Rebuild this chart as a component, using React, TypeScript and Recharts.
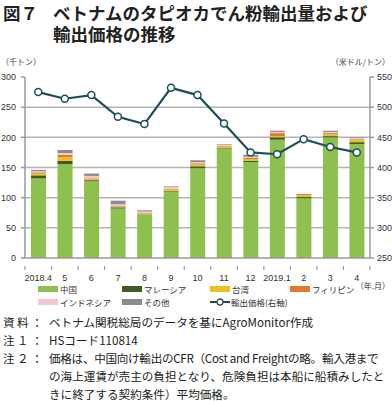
import React from 'react'
import {
  ComposedChart,
  Bar,
  Line,
  XAxis,
  YAxis,
  CartesianGrid,
} from 'recharts'

const months = ['2018.4', '5', '6', '7', '8', '9', '10', '11', '12', '2019.1', '2', '3', '4']
const china = [132, 156, 127, 82, 71, 110, 149, 181, 159, 196, 99, 200, 189]
const malaysia = [5, 5, 2, 2, 1, 1, 3, 1, 2, 4, 2, 2, 3]
const taiwan = [3, 6, 2, 1, 2, 3, 3, 3, 3, 2, 3, 3, 4]
const philippines = [2, 4, 1, 1, 1, 1, 2, 1, 2, 5, 2, 2, 1]
const indonesia = [2, 3, 4, 3, 2, 3, 2, 2, 2, 2, 0, 2, 2]
const others = [2, 5, 4, 6, 2, 1, 3, 1, 3, 2, 0, 2, 1]
const price = [525, 514, 520, 484, 472, 532, 520, 473, 425, 422, 447, 434, 425]

const leftTicks = [0, 50, 100, 150, 200, 250, 300]
const rightTicks = [250, 300, 350, 400, 450, 500, 550]
const gridValues = [50, 100, 150, 200, 250]
const LEFT_MAX = 300

const data = months.map((m, i) => ({
  month: m,
  china: china[i],
  malaysia: malaysia[i],
  taiwan: taiwan[i],
  philippines: philippines[i],
  indonesia: indonesia[i],
  others: others[i],
  price: price[i],
}))

const COLORS = {
  china: '#8dc04e',
  malaysia: '#3f5b22',
  taiwan: '#e9c21e',
  philippines: '#e07a2c',
  indonesia: '#f2c7d3',
  others: '#8a8c8e',
  line: '#1f4d5a',
}

const JP = '"Noto Sans CJK JP", sans-serif'
const NUM = '"Liberation Sans", "Noto Sans CJK JP", sans-serif'
const AXIS = '#9a9a9a'

const PLOT_LEFT = 25
const PLOT_RIGHT = 370
const STEP = (PLOT_RIGHT - PLOT_LEFT) / months.length

function XTick(props: any) {
  const { x, y, payload, index } = props
  return (
    <g>
      {index === 0 && (
        <line x1={x - STEP / 2} x2={x - STEP / 2} y1={y} y2={y + 4} stroke={AXIS} strokeWidth={1.2} />
      )}
      <line x1={x + STEP / 2} x2={x + STEP / 2} y1={y} y2={y + 4} stroke={AXIS} strokeWidth={1.2} />
      <text x={x} y={y + 15} textAnchor="middle" fontSize={9} fill="#333" fontFamily={NUM}>
        {payload.value}
      </text>
    </g>
  )
}

function Swatch({ color }: { color: string }) {
  return <span style={{ display: 'inline-block', width: 20, height: 6, background: color, marginRight: 2 }} />
}

function LegendItem({ x, y, color, label, line }: { x: number; y: number; color: string; label: string; line?: boolean }) {
  return (
    <div style={{ position: 'absolute', left: x, top: y, display: 'flex', alignItems: 'center', fontSize: 8.5, color: '#333', fontFamily: JP, whiteSpace: 'nowrap', lineHeight: '12px' }}>
      {line ? (
        <svg width={20} height={8} style={{ marginRight: 1 }}>
          <line x1={0} x2={20} y1={4} y2={4} stroke={COLORS.line} strokeWidth={2} />
          <circle cx={10} cy={4} r={3} fill="#fff" stroke={COLORS.line} strokeWidth={1.3} />
        </svg>
      ) : (
        <Swatch color={color} />
      )}
      {label}
    </div>
  )
}

const noteLabel: React.CSSProperties = { display: 'inline-block', width: 46, letterSpacing: 2.5 }
const titleStyle: React.CSSProperties = {
  position: 'absolute',
  fontSize: 17.5,
  fontWeight: 700,
  color: '#222',
  lineHeight: '22px',
  height: 22,
  whiteSpace: 'nowrap',
}

export default function App() {
  return (
    <div style={{ position: 'absolute', left: 0, top: 0, width: 392, height: 401, background: '#fff', fontFamily: JP, overflow: 'hidden' }}>
      <div style={{ ...titleStyle, left: 3, top: 2 }}>
        <span style={{ display: 'inline-block', width: 50 }}>図７</span>
        ベトナムのタピオカでん粉輸出量および
      </div>
      <div style={{ ...titleStyle, left: 53, top: 23 }}>輸出価格の推移</div>

      <div style={{ position: 'absolute', left: 1, top: 56, fontSize: 8, color: '#444' }}>（千トン）</div>
      <div style={{ position: 'absolute', right: 2, top: 56, fontSize: 8, color: '#444' }}>（米ドル/トン）</div>

      <div style={{ position: 'absolute', left: 0, top: 0 }}>
        <ComposedChart
          width={392}
          height={282}
          data={data}
          margin={{ top: 77, right: 0, bottom: 0, left: 5 }}
          barSize={15}
        >
          <CartesianGrid
            vertical={false}
            stroke="#b5b5b5"
            strokeWidth={1.5}
            horizontalCoordinatesGenerator={({ offset }: any) =>
              gridValues.map((v) => offset.top + offset.height * (1 - v / LEFT_MAX))
            }
          />
          <XAxis
            dataKey="month"
            height={24}
            interval={0}
            tickLine={false}
            stroke={AXIS}
            strokeWidth={1.5}
            tick={<XTick />}
          />
          <YAxis
            yAxisId="left"
            width={20}
            domain={[0, LEFT_MAX]}
            ticks={leftTicks}
            interval={0}
            stroke={AXIS}
            strokeWidth={1.5}
            tickSize={4}
            tickMargin={5}
            tick={{ fontSize: 9, fill: '#333', fontFamily: NUM }}
          />
          <YAxis
            yAxisId="right"
            orientation="right"
            width={22}
            domain={[250, 550]}
            ticks={rightTicks}
            interval={0}
            stroke={AXIS}
            strokeWidth={1.5}
            tickSize={4}
            tickMargin={3}
            tick={{ fontSize: 9, fill: '#333', fontFamily: NUM }}
          />
          <Bar yAxisId="left" dataKey="china" stackId="a" fill={COLORS.china} isAnimationActive={false} />
          <Bar yAxisId="left" dataKey="malaysia" stackId="a" fill={COLORS.malaysia} isAnimationActive={false} />
          <Bar yAxisId="left" dataKey="taiwan" stackId="a" fill={COLORS.taiwan} isAnimationActive={false} />
          <Bar yAxisId="left" dataKey="philippines" stackId="a" fill={COLORS.philippines} isAnimationActive={false} />
          <Bar yAxisId="left" dataKey="indonesia" stackId="a" fill={COLORS.indonesia} isAnimationActive={false} />
          <Bar yAxisId="left" dataKey="others" stackId="a" fill={COLORS.others} isAnimationActive={false} />
          <Line
            yAxisId="right"
            dataKey="price"
            type="linear"
            stroke={COLORS.line}
            strokeWidth={2.2}
            dot={{ r: 3.5, fill: '#fff', stroke: COLORS.line, strokeWidth: 1.5 }}
            isAnimationActive={false}
          />
        </ComposedChart>
      </div>

      <div style={{ position: 'absolute', right: 2, top: 280, fontSize: 8, color: '#333', lineHeight: '11px', whiteSpace: 'nowrap' }}>（年.月）</div>

      <LegendItem x={38} y={283} color={COLORS.china} label="中国" />
      <LegendItem x={122} y={283} color={COLORS.malaysia} label="マレーシア" />
      <LegendItem x={210} y={283} color={COLORS.taiwan} label="台湾" />
      <LegendItem x={290} y={283} color={COLORS.philippines} label="フィリピン" />
      <LegendItem x={38} y={296} color={COLORS.indonesia} label="インドネシア" />
      <LegendItem x={122} y={296} color={COLORS.others} label="その他" />
      <LegendItem x={210} y={296} color={COLORS.line} label="輸出価格(右軸)" line />

      <div style={{ position: 'absolute', left: 3, top: 313, fontSize: 11.6, color: '#222', lineHeight: '18px', whiteSpace: 'nowrap' }}>
        <div><span style={noteLabel}>資料：</span>ベトナム関税総局のデータを基にAgroMonitor作成</div>
        <div><span style={noteLabel}>注１：</span>HSコード110814</div>
        <div><span style={noteLabel}>注２：</span><span style={{ letterSpacing: -0.3 }}>価格は、中国向け輸出のCFR（Cost and Freightの略。輸入港まで</span></div>
        <div style={{ paddingLeft: 46 }}>の海上運賃が売主の負担となり、危険負担は本船に船積みしたと</div>
        <div style={{ paddingLeft: 46 }}>きに終了する契約条件）平均価格。</div>
      </div>
    </div>
  )
}
